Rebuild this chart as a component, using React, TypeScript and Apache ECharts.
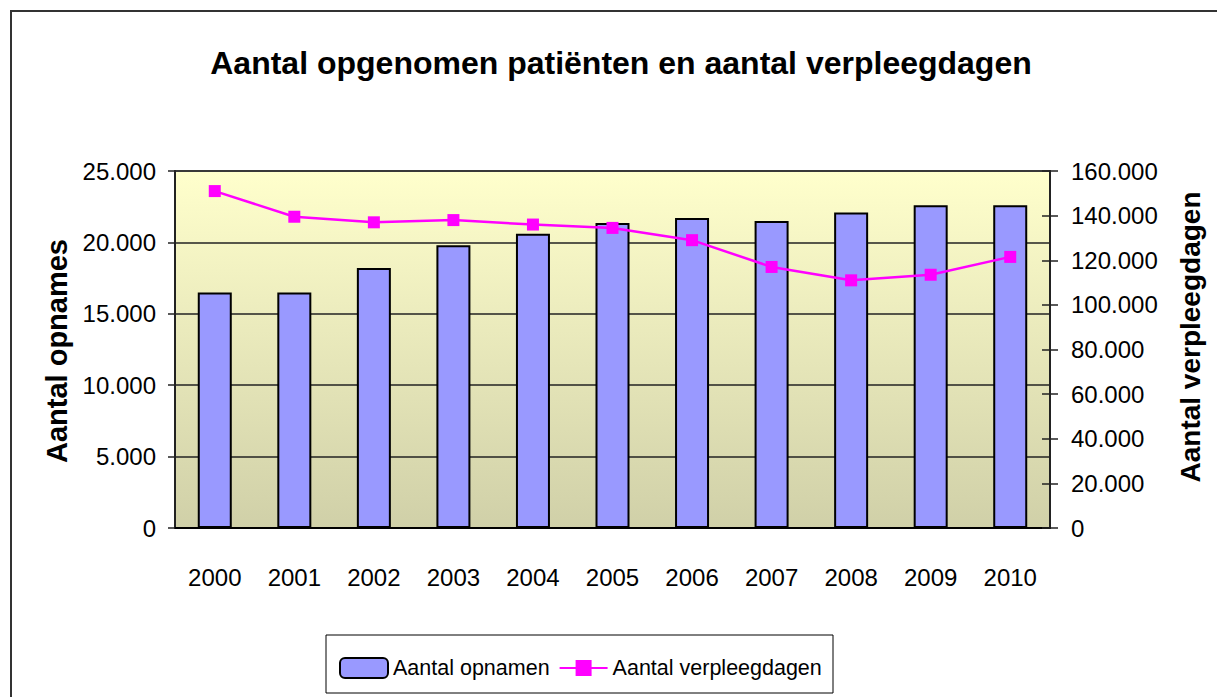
import React, { useEffect, useRef } from "react";
import * as echarts from "echarts";

const years = ["2000", "2001", "2002", "2003", "2004", "2005", "2006", "2007", "2008", "2009", "2010"];
const opnamen = [16500, 16500, 18200, 19800, 20600, 21350, 21700, 21500, 22100, 22600, 22600];
const verpleegdagen = [151000, 139500, 137000, 138000, 136000, 134500, 129000, 117000, 111000, 113500, 121500];

const titleText = "Aantal opgenomen patiënten en aantal verpleegdagen";
const leftAxisName = "Aantal opnames";
const rightAxisName = "Aantal verpleegdagen";
const seriesNames = ["Aantal opnamen", "Aantal verpleegdagen"];

const FONT = "'Liberation Sans', Arial, sans-serif";

function fmt(v: number): string {
  if (v === 0) return "0";
  const s = String(Math.round(v));
  return s.replace(/\B(?=(\d{3})+(?!\d))/g, ".");
}

export default function App() {
  const ref = useRef<HTMLDivElement>(null);
  useEffect(() => {
    if (!ref.current) return;
    const chart = echarts.init(ref.current, null, { renderer: "svg" });
    const labelStyle = { color: "#000", fontFamily: FONT, fontSize: 24 };
    chart.setOption({
      animation: false,
      backgroundColor: "#fff",
      grid: {
        left: 175,
        top: 171,
        width: 875,
        height: 357,
        show: true,
        borderColor: "#808080",
        borderWidth: 2,
        backgroundColor: new echarts.graphic.LinearGradient(0, 0, 0, 1, [
          { offset: 0, color: "#FFFFCC" },
          { offset: 1, color: "#D0D0A8" },
        ]),
      },
      legend: {
        left: 334,
        top: 652,
        itemWidth: 48,
        itemHeight: 20,
        itemGap: 9,
        textStyle: { color: "#000", fontFamily: FONT, fontSize: 21.5 },
        data: seriesNames,
      },
      graphic: [
        {
          type: "rect",
          shape: { x: 11, y: 11, width: 1300, height: 800 },
          style: { fill: "none", stroke: "#333", lineWidth: 2 },
          silent: true,
        },
        {
          type: "rect",
          shape: { x: 326, y: 635, width: 507, height: 58 },
          style: { fill: "none", stroke: "#000", lineWidth: 1 },
          silent: true,
        },
        {
          type: "text",
          x: 621,
          y: 63,
          style: {
            text: titleText,
            font: `bold 32px ${FONT}`,
            fill: "#000",
            align: "center",
            verticalAlign: "middle",
          },
        },
        {
          type: "text",
          x: 57,
          y: 351,
          rotation: Math.PI / 2,
          style: {
            text: leftAxisName,
            font: `bold 29px ${FONT}`,
            fill: "#000",
            align: "center",
            verticalAlign: "middle",
          },
        },
        {
          type: "text",
          x: 1190,
          y: 337,
          rotation: Math.PI / 2,
          style: {
            text: rightAxisName,
            font: `bold 28px ${FONT}`,
            fill: "#000",
            align: "center",
            verticalAlign: "middle",
          },
        },
      ],
      xAxis: {
        type: "category",
        data: years,
        axisLine: { show: true, lineStyle: { color: "#000", width: 2 } },
        axisTick: { show: false },
        axisLabel: { ...labelStyle, margin: 37, interval: 0 },
        splitLine: { show: false },
      },
      yAxis: [
        {
          type: "value",
          min: 0,
          max: 25000,
          interval: 5000,
          position: "left",
          axisLine: { show: true, lineStyle: { color: "#222", width: 2 } },
          axisTick: { show: true, length: 7, lineStyle: { color: "#222", width: 1.5 } },
          axisLabel: { ...labelStyle, margin: 19, formatter: (v: number) => fmt(v) },
          splitLine: { show: true, lineStyle: { color: "#222", width: 1.5 } },
        },
        {
          type: "value",
          min: 0,
          max: 160000,
          interval: 20000,
          position: "right",
          axisLine: { show: true, lineStyle: { color: "#222", width: 2 } },
          axisTick: { show: true, length: 8, lineStyle: { color: "#222", width: 1.5 } },
          axisLabel: { ...labelStyle, margin: 21, formatter: (v: number) => fmt(v) },
          splitLine: { show: false },
        },
        {
          type: "value",
          min: 0,
          max: 160000,
          interval: 20000,
          position: "right",
          axisLine: { show: false },
          axisTick: { show: true, inside: true, length: 8, lineStyle: { color: "#222", width: 1.5 } },
          axisLabel: { show: false },
          splitLine: { show: false },
        },
      ],
      series: [
        {
          name: seriesNames[0],
          type: "bar",
          yAxisIndex: 0,
          data: opnamen,
          barWidth: 34,
          itemStyle: { color: "#9999FF", borderColor: "#000", borderWidth: 2 },
        },
        {
          name: seriesNames[1],
          type: "line",
          yAxisIndex: 1,
          data: verpleegdagen,
          symbol: "rect",
          symbolSize: 12,
          lineStyle: { color: "#FF00FF", width: 2.5 },
          itemStyle: { color: "#FF00FF" },
        },
      ],
    });
    return () => chart.dispose();
  }, []);
  return (
    <div
      ref={ref}
      style={{ position: "absolute", left: 0, top: 0, width: 1217, height: 697 }}
    />
  );
}
